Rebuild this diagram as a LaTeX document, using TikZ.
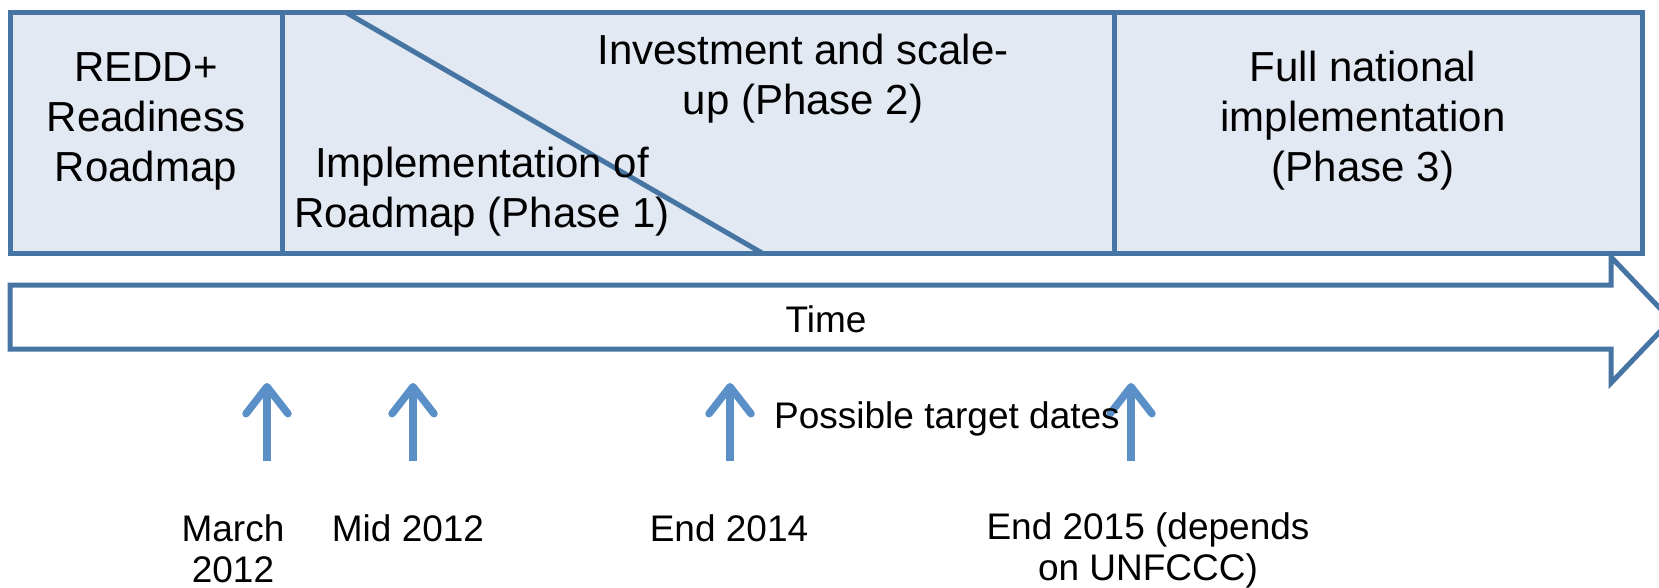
\documentclass[tikz,border=0pt]{standalone}
\usepackage{fontspec}
\setmainfont{Liberation Sans}
\usetikzlibrary{arrows.meta}
\definecolor{edge}{HTML}{4775A3}
\definecolor{boxfill}{HTML}{E2E9F3}
\definecolor{tick}{HTML}{5B8FC8}
\begin{document}
\begin{tikzpicture}[x=1pt,y=-1pt,
  phase/.style={draw=edge, fill=boxfill, line width=5pt, inner sep=0pt, outer sep=0pt, minimum height=240pt},
  big/.style={font=\fontsize{42}{50}\selectfont, align=center, anchor=base, inner sep=0pt},
  small/.style={font=\fontsize{37}{41}\selectfont, align=center, anchor=base, inner sep=0pt},
  tgt/.style={draw=tick, line width=7.5pt, -{Straight Barb[length=27pt,width=42pt,round]}}
]
\useasboundingbox (0,0) rectangle (1659,588);
% phase boxes
\node[phase, minimum width=272pt] (b1) at (146,133) {};
\node[phase, minimum width=832pt] (b2) at (698,133) {};
\node[phase, minimum width=528pt] (b3) at (1378,133) {};
% diagonal split of box 2
\coordinate (d1) at (347,13);
\coordinate (d2) at (762,253);
\draw[draw=edge, line width=5pt] (d1) -- (d2);
% box texts (anchor = baseline of the last line)
\node[big] (t1) at (146,182) {REDD+\\Readiness\\Roadmap};
\node[big] (t2) at (803,115) {Investment and scale-\\up (Phase 2)};
\node[big] (t3) at (482,227) {Implementation of\\Roadmap (Phase 1)};
\node[big] (t4) at (1363,182) {Full national\\implementation\\(Phase 3)};
% time arrow
\draw[draw=edge, fill=white, line width=5pt]
  (10,285) -- (1611,285) -- (1611,257) -- (1671,320) -- (1611,383) -- (1611,349) -- (10,349) -- cycle;
\node[small] (time) at (826,332) {Time};
% target date arrows
\coordinate (a1b) at (267,461); \coordinate (a1t) at (267,383);
\coordinate (a2b) at (413,461); \coordinate (a2t) at (413,383);
\coordinate (a3b) at (730,461); \coordinate (a3t) at (730,383);
\coordinate (a4b) at (1131,461); \coordinate (a4t) at (1131,383);
\draw[tgt] (a1b) -- (a1t);
\draw[tgt] (a2b) -- (a2t);
\draw[tgt] (a3b) -- (a3t);
\draw[tgt] (a4b) -- (a4t);
\node[small, anchor=base west] (ptd) at (774,428) {Possible target dates};
% date labels
\node[small] (l1) at (233,582) {March\\2012};
\node[small] (l2) at (408,541) {Mid 2012};
\node[small] (l3) at (729,541) {End 2014};
\node[small] (l4) at (1148,580) {End 2015 (depends\\on UNFCCC)};
\end{tikzpicture}
\end{document}
